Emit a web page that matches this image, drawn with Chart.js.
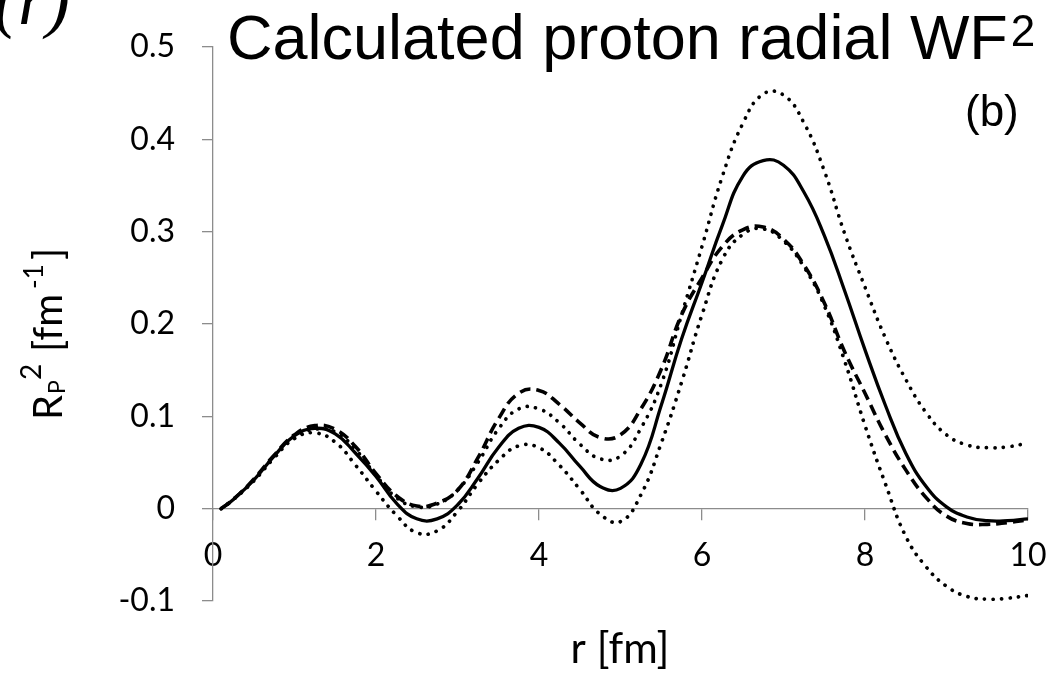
<!DOCTYPE html>
<html>
<head>
<meta charset="utf-8">
<script src="https://cdn.jsdelivr.net/npm/chart.js@4.4.0/dist/chart.umd.min.js"></script>
<style>
  body { margin: 0; background: #fff; }
  canvas { display: block; }
</style>
</head>
<body>
<canvas id="wf-chart" width="1050" height="680"></canvas>
<script>
// r values (fm)
const rValues = [0.1, 0.25, 0.5, 0.75, 1.0, 1.25, 1.5, 1.75, 2.0, 2.25, 2.5, 2.75, 3.0, 3.25, 3.5, 3.75, 4.0, 4.25, 4.5, 4.75,
    5.0, 5.25, 5.5, 5.75, 6.0, 6.25, 6.5, 6.75, 7.0, 7.25, 7.5, 7.75, 8.0, 8.25, 8.5, 8.75, 9.0, 9.25, 9.5, 9.75, 10.0]

// solid curve
const solidValues = [0.000, 0.010, 0.031, 0.057, 0.079, 0.087, 0.081, 0.060, 0.035, 0.006, -0.011, -0.011, 0.004, 0.033, 0.066, 0.087, 0.088, 0.071, 0.046, 0.024,
    0.022, 0.048, 0.112, 0.184, 0.245, 0.307, 0.360, 0.377, 0.372, 0.343, 0.296, 0.236, 0.172, 0.112, 0.060, 0.024, 0.002, -0.009, -0.013, -0.013, -0.011]

// dashed curve
const dashedValues = [0.000, 0.010, 0.032, 0.058, 0.080, 0.090, 0.086, 0.067, 0.038, 0.014, 0.003, 0.006, 0.020, 0.055, 0.097, 0.125, 0.128, 0.113, 0.093, 0.077,
    0.080, 0.108, 0.151, 0.210, 0.250, 0.284, 0.302, 0.305, 0.292, 0.264, 0.223, 0.170, 0.125, 0.080, 0.042, 0.012, -0.008, -0.016, -0.017, -0.015, -0.012]

// upper dotted curve
const upperDottedValues = [0.000, 0.010, 0.031, 0.057, 0.078, 0.086, 0.083, 0.064, 0.036, 0.012, 0.002, 0.005, 0.020, 0.050, 0.086, 0.108, 0.108, 0.093, 0.070, 0.054,
    0.057, 0.087, 0.135, 0.210, 0.284, 0.360, 0.417, 0.449, 0.448, 0.418, 0.366, 0.298, 0.240, 0.185, 0.140, 0.104, 0.080, 0.069, 0.066, 0.067, 0.071]

// lower dotted curve
const lowerDottedValues = [0.000, 0.010, 0.030, 0.055, 0.076, 0.082, 0.072, 0.047, 0.019, -0.007, -0.026, -0.024, -0.003, 0.027, 0.052, 0.068, 0.066, 0.047, 0.021, -0.006,
    -0.014, 0.015, 0.071, 0.137, 0.210, 0.270, 0.297, 0.303, 0.290, 0.262, 0.220, 0.160, 0.090, 0.027, -0.030, -0.063, -0.084, -0.095, -0.098, -0.097, -0.094]

const yTicks = [-0.1, 0, 0.1, 0.2, 0.3, 0.4, 0.5]
const xTicks = [0, 2, 4, 6, 8, 10]

const axisGray = '#8c8c8c'

function toPoints(values) {
    return rValues.map((r, i) => ({ x: r, y: values[i] }))
}

function lineStyle(kind) {
    if (kind === 'solid') {
        return { borderWidth: 3.3, borderDash: [], borderCapStyle: 'butt' }
    }
    if (kind === 'dashed') {
        return { borderWidth: 3.6, borderDash: [11, 6], borderCapStyle: 'butt' }
    }
    if (kind === 'dotted') {
        return { borderWidth: 3.7, borderDash: [0.1, 8.4], borderCapStyle: 'round' }
    }
}

// title, labels and the cut-off corner mark are drawn by hand
const textPlugin = {
    id: 'texts',
    afterDraw(chart) {
        const ctx = chart.ctx
        ctx.save()
        ctx.fillStyle = '#000'
        ctx.textAlign = 'left'
        ctx.textBaseline = 'alphabetic'

        // corner mark (mostly cut off)
        ctx.font = 'italic 72px "Liberation Serif"'
        ctx.fillText('(r)', -6, 24)

        // main title
        const title = 'Calculated proton radial WF'
        ctx.font = '63px "Liberation Sans"'
        ctx.fillText(title, 227, 59)
        const tw = ctx.measureText(title).width
        ctx.font = '44px "Liberation Sans"'
        ctx.fillText('2', 227 + tw + 3, 46)

        // panel label
        ctx.font = '44px "Liberation Sans"'
        ctx.fillText('(b)', 965, 126)

        // x axis title
        ctx.font = '42px Lato'
        ctx.textAlign = 'center'
        ctx.fillText('r [fm]', 620, 663)

        // y axis title, rotated (offsets run along the text)
        ctx.translate(62, 420)
        ctx.rotate(-Math.PI / 2)
        ctx.textAlign = 'left'
        const parts = [
            { t: 'R', size: 40, dx: 0, dy: 0 },
            { t: 'P', size: 23, dx: 26, dy: 3 },
            { t: '2', size: 28, dx: 40, dy: -21 },
            { t: '[fm', size: 40, dx: 68, dy: 0 },
            { t: '-1', size: 26, dx: 131, dy: -19 },
            { t: ']', size: 40, dx: 160, dy: 0 }
        ]
        parts.forEach(p => {
            ctx.font = p.size + 'px Lato'
            ctx.fillText(p.t, p.dx, p.dy)
        })
        ctx.restore()
    }
}

function main() {
    const canvas = document.querySelector('#wf-chart')

    new Chart(canvas.getContext('2d'), {
        type: 'line',
        data: {
            datasets: [
                { label: 'upper', data: toPoints(upperDottedValues), ...lineStyle('dotted') },
                { label: 'lower', data: toPoints(lowerDottedValues), ...lineStyle('dotted') },
                { label: 'dashed', data: toPoints(dashedValues), ...lineStyle('dashed') },
                { label: 'solid', data: toPoints(solidValues), ...lineStyle('solid') }
            ].map(ds => ({
                ...ds,
                borderColor: '#000',
                backgroundColor: '#000',
                pointRadius: 0,
                fill: false,
                tension: 0.45
            }))
        },
        options: {
            responsive: false,
            animation: false,
            layout: { padding: { left: 0, right: 22, top: 47, bottom: 79 } },
            plugins: {
                legend: { display: false },
                tooltip: { enabled: false }
            },
            scales: {
                x: {
                    type: 'linear',
                    position: { y: 0 },
                    min: 0,
                    max: 10,
                    afterFit: scale => {
                        scale.height = 0
                        scale.paddingLeft = 0
                        scale.paddingRight = 0
                    },
                    afterBuildTicks: scale => { scale.ticks = xTicks.map(v => ({ value: v })) },
                    border: { color: axisGray, width: 1.3 },
                    grid: { drawOnChartArea: false, drawTicks: true, tickLength: 11, color: axisGray, lineWidth: 1.3 },
                    ticks: { color: '#000', padding: 17, font: { family: 'Lato', size: 32 }, maxRotation: 0 }
                },
                y: {
                    type: 'linear',
                    position: 'left',
                    min: -0.1,
                    max: 0.5,
                    afterFit: scale => { scale.width = 213 },
                    afterBuildTicks: scale => { scale.ticks = yTicks.map(v => ({ value: v })) },
                    border: { color: axisGray, width: 1.3 },
                    grid: { drawOnChartArea: false, drawTicks: true, tickLength: 11, color: axisGray, lineWidth: 1.3 },
                    ticks: {
                        color: '#000',
                        padding: 27,
                        font: { family: 'Lato', size: 32 },
                        callback: v => (Math.abs(v) < 1e-9 ? '0' : v.toFixed(1))
                    }
                }
            }
        },
        plugins: [textPlugin]
    })
}

main()
</script>
</body>
</html>
